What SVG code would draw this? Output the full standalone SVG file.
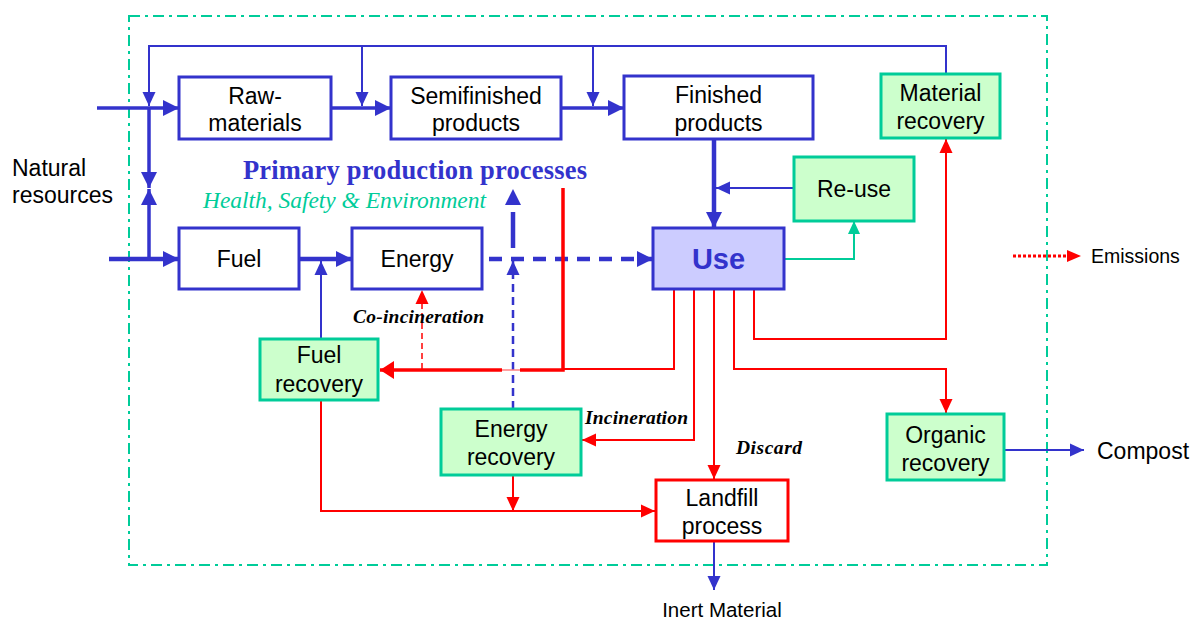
<svg xmlns="http://www.w3.org/2000/svg" width="1197" height="619" viewBox="0 0 1197 619">
  <defs>
    <style>
      .proc rect { fill: #ffffff; stroke: #3333cc; stroke-width: 3; }
      .rec rect { fill: #ccffcc; stroke: #00cc99; stroke-width: 3; }
      .land rect { fill: #ffffff; stroke: #ff0000; stroke-width: 3; }
      .use rect { fill: #ccccff; stroke: #3333cc; stroke-width: 3; }
      text { font-family: "Liberation Sans", Arial, sans-serif; font-size: 23px; fill: #000000; }
      .c { text-anchor: middle; }
      .b { fill: none; stroke: #3333cc; }
      .r { fill: none; stroke: #ff0000; }
      .g { fill: none; stroke: #00cc99; }
      .lbl { font-family: "Liberation Serif", "Times New Roman", serif; font-style: italic; font-weight: bold; font-size: 19.5px; }
    </style>
    <marker id="bL" markerUnits="userSpaceOnUse" markerWidth="16" markerHeight="16" refX="16" refY="8" orient="auto">
      <path d="M0,0 L16,8 L0,16 z" fill="#3333cc"/>
    </marker>
    <marker id="bS" markerUnits="userSpaceOnUse" markerWidth="14" markerHeight="14" refX="14" refY="7" orient="auto">
      <path d="M0,0.5 L14,7 L0,13.5 z" fill="#3333cc"/>
    </marker>
    <marker id="rS" markerUnits="userSpaceOnUse" markerWidth="14" markerHeight="14" refX="14" refY="7" orient="auto">
      <path d="M0,0.5 L14,7 L0,13.5 z" fill="#ff0000"/>
    </marker>
    <marker id="rL" markerUnits="userSpaceOnUse" markerWidth="14" markerHeight="18" refX="14" refY="9" orient="auto">
      <path d="M0,0 L14,9 L0,18 z" fill="#ff0000"/>
    </marker>
    <marker id="gS" markerUnits="userSpaceOnUse" markerWidth="13" markerHeight="13" refX="13" refY="6.5" orient="auto">
      <path d="M0,0.5 L13,6.5 L0,12.5 z" fill="#00cc99"/>
    </marker>
  </defs>

  <rect width="1197" height="619" fill="#ffffff"/>

  <!-- system boundary -->
  <rect x="129" y="16" width="918" height="549" fill="none" stroke="#00cc99" stroke-width="2" stroke-dasharray="11,5,3,5"/>

  <!-- connectors -->
  <g id="connectors">
    <!-- material feedback loop from material recovery -->
    <path class="b" stroke-width="2" d="M946,73 V46 H149 V106" marker-end="url(#bS)"/>
    <path class="b" stroke-width="2" d="M362,46 V106" marker-end="url(#bS)"/>
    <path class="b" stroke-width="2" d="M593,46 V106" marker-end="url(#bS)"/>
    <!-- natural resources inputs -->
    <path class="b" stroke-width="3.5" d="M97,108 H179" marker-end="url(#bL)"/>
    <path class="b" stroke-width="3.5" d="M149,108 V188" marker-end="url(#bL)"/>
    <path class="b" stroke-width="3.5" d="M149,259 V189" marker-end="url(#bL)"/>
    <path class="b" stroke-width="4.5" d="M109,259 H179" marker-end="url(#bL)"/>
    <!-- production chain -->
    <path class="b" stroke-width="3.5" d="M331,108 H391" marker-end="url(#bL)"/>
    <path class="b" stroke-width="3.5" d="M561,108 H624" marker-end="url(#bL)"/>
    <path class="b" stroke-width="4.5" d="M299,259 H352" marker-end="url(#bL)"/>
    <path class="b" stroke-width="2" d="M321,339 V261" marker-end="url(#bS)"/>
    <path class="b" stroke-width="4.5" d="M714,139 V228" marker-end="url(#bL)"/>
    <path class="b" stroke-width="2" d="M794,188 H716" marker-end="url(#bS)"/>
    <path class="g" stroke-width="2" d="M785,259 H854 V221" marker-end="url(#gS)"/>
    <!-- energy flows -->
    <path class="b" stroke-width="4.5" stroke-dasharray="13,9" d="M489,259 H653" marker-end="url(#bL)"/>
    <path class="b" stroke-width="2.5" stroke-dasharray="8,5" d="M513,409 V261" marker-end="url(#bS)"/>
    <path class="b" stroke-width="4.5" stroke-dasharray="36,40" d="M513,248 V189" marker-end="url(#bL)"/>
    <!-- waste to fuel recovery -->
    <path class="r" stroke-width="3.5" d="M563,188 V370 H520"/>
    <path fill="none" stroke="#ff8080" stroke-width="1.5" d="M520,370 H502"/>
    <path class="r" stroke-width="3.5" d="M502,370 H380" marker-end="url(#rL)"/>
    <path class="r" stroke-width="2" d="M674,289 V369 H563"/>
    <path class="r" stroke-width="1.5" stroke-dasharray="6,4" d="M422,369 V290" marker-end="url(#rS)"/>
    <!-- waste streams from use -->
    <path class="r" stroke-width="2" d="M694,289 V440 H582" marker-end="url(#rS)"/>
    <path class="r" stroke-width="2" d="M714,289 V479" marker-end="url(#rS)"/>
    <path class="r" stroke-width="2" d="M734,289 V369 H946 V413" marker-end="url(#rS)"/>
    <path class="r" stroke-width="2" d="M754,289 V339 H946 V139" marker-end="url(#rS)"/>
    <!-- residues to landfill -->
    <path class="r" stroke-width="2" d="M321,400 V511 H655" marker-end="url(#rS)"/>
    <path class="r" stroke-width="2" d="M513,475 V511" marker-end="url(#rS)"/>
    <!-- outputs -->
    <path class="b" stroke-width="2" d="M714,541 V590" marker-end="url(#bS)"/>
    <path class="b" stroke-width="2" d="M1004,450 H1084" marker-end="url(#bS)"/>
    <!-- legend: emissions -->
    <path fill="none" stroke="#ff0000" stroke-width="3" stroke-dasharray="3,2" d="M1013,256 H1068"/>
    <path d="M1067,250 L1081,256 L1067,262 z" fill="#ff0000"/>
  </g>

  <!-- nodes -->
  <g id="raw-materials" class="proc">
    <rect x="179" y="77" width="152" height="62"/>
    <text class="c" x="255" y="104">Raw-</text>
    <text class="c" x="255" y="131">materials</text>
  </g>
  <g id="semifinished" class="proc">
    <rect x="391" y="77" width="170" height="62"/>
    <text class="c" x="476" y="104">Semifinished</text>
    <text class="c" x="476" y="131">products</text>
  </g>
  <g id="finished" class="proc">
    <rect x="624" y="76" width="189" height="63"/>
    <text class="c" x="718.5" y="103">Finished</text>
    <text class="c" x="718.5" y="131">products</text>
  </g>
  <g id="material-recovery" class="rec">
    <rect x="881" y="74" width="119" height="64"/>
    <text class="c" x="940.5" y="101">Material</text>
    <text class="c" x="940.5" y="129">recovery</text>
  </g>
  <g id="re-use" class="rec">
    <rect x="794" y="157" width="120" height="64"/>
    <text class="c" x="854" y="197">Re-use</text>
  </g>
  <g id="fuel" class="proc">
    <rect x="179" y="228" width="120" height="61"/>
    <text class="c" x="239" y="267">Fuel</text>
  </g>
  <g id="energy" class="proc">
    <rect x="352" y="228" width="130" height="61"/>
    <text class="c" x="417" y="267">Energy</text>
  </g>
  <g id="use" class="use">
    <rect x="653" y="228" width="131" height="61"/>
    <text class="c" x="718.5" y="269" style="font-weight:bold;font-size:29px;fill:#3333cc">Use</text>
  </g>
  <g id="fuel-recovery" class="rec">
    <rect x="260" y="339" width="118" height="61"/>
    <text class="c" x="319" y="363">Fuel</text>
    <text class="c" x="319" y="392">recovery</text>
  </g>
  <g id="energy-recovery" class="rec">
    <rect x="441" y="409" width="140" height="66"/>
    <text class="c" x="511" y="437">Energy</text>
    <text class="c" x="511" y="465">recovery</text>
  </g>
  <g id="landfill" class="land">
    <rect x="656" y="480" width="132" height="61"/>
    <text class="c" x="722" y="506">Landfill</text>
    <text class="c" x="722" y="534">process</text>
  </g>
  <g id="organic-recovery" class="rec">
    <rect x="887" y="414" width="117" height="66"/>
    <text class="c" x="945.5" y="443">Organic</text>
    <text class="c" x="945.5" y="471">recovery</text>
  </g>

  <!-- free labels -->
  <g id="labels">
    <text x="12" y="176">Natural</text>
    <text x="12" y="203">resources</text>
    <text x="243" y="179" textLength="344" style="font-family:'Liberation Serif','Times New Roman',serif;font-weight:bold;font-size:26.5px;fill:#3333cc">Primary production processes</text>
    <text x="203" y="208" textLength="283" style="font-family:'Liberation Serif','Times New Roman',serif;font-style:italic;font-size:23.5px;fill:#00cc99">Health, Safety &amp; Environment</text>
    <text class="lbl" x="353" y="323" textLength="131">Co-incineration</text>
    <text class="lbl" x="585" y="424" textLength="103">Incineration</text>
    <text class="lbl" x="736" y="454" textLength="66">Discard</text>
    <text x="1097" y="459">Compost</text>
    <text x="1091" y="263" style="font-size:19.5px">Emissions</text>
    <text class="c" x="722" y="617" style="font-size:20.5px">Inert Material</text>
  </g>
</svg>
